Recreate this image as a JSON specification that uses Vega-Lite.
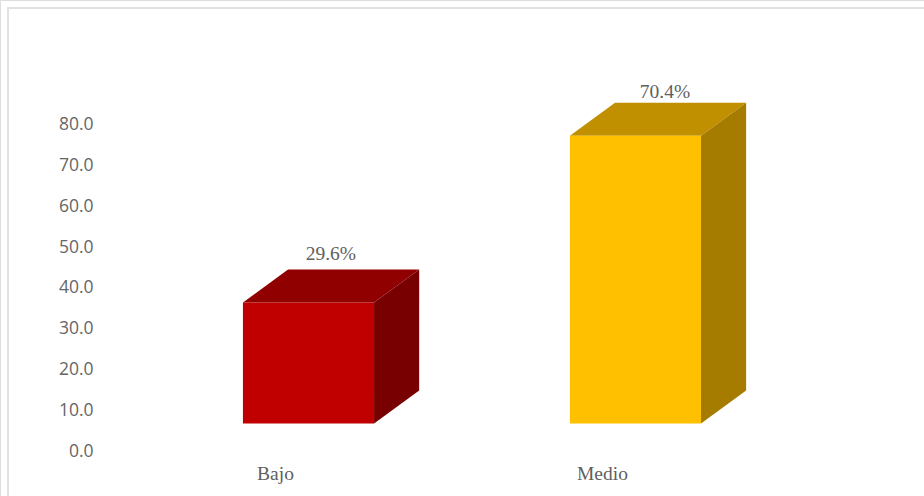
{
  "$schema": "https://vega.github.io/schema/vega-lite/v6.json",
  "width": 924,
  "height": 496,
  "padding": 0,
  "autosize": "none",
  "background": "white",
  "datasets": {
    "frame": [
      {"left": 0.1835, "right": 3.1, "low": -14, "high": 108.49}
    ],
    "front": [
      {"categoria": "Bajo", "valor": 29.6, "base": 0, "x0": 0.902, "x1": 1.303, "cara": "Bajo frente"},
      {"categoria": "Medio", "valor": 70.4, "base": 0, "x0": 1.902, "x1": 2.303, "cara": "Medio frente"}
    ],
    "side": [
      {"cara": "Bajo lado", "x": 1.303, "alto": 29.6, "bajo": 0},
      {"cara": "Bajo lado", "x": 1.441, "alto": 37.7, "bajo": 8.1},
      {"cara": "Medio lado", "x": 2.303, "alto": 70.4, "bajo": 0},
      {"cara": "Medio lado", "x": 2.441, "alto": 78.5, "bajo": 8.1}
    ],
    "top": [
      {"cara": "Bajo tapa", "y": 29.6, "x0": 0.902, "x1": 1.303},
      {"cara": "Bajo tapa", "y": 37.7, "x0": 1.04, "x1": 1.441},
      {"cara": "Medio tapa", "y": 70.4, "x0": 1.902, "x1": 2.303},
      {"cara": "Medio tapa", "y": 78.5, "x0": 2.04, "x1": 2.441}
    ],
    "labels": [
      {"texto": "29.6%", "x": 1.171, "y": 41.4},
      {"texto": "70.4%", "x": 2.193, "y": 81.0}
    ]
  },
  "encoding": {
    "color": {
      "field": "cara",
      "type": "nominal",
      "legend": null,
      "scale": {
        "domain": ["Bajo frente", "Bajo lado", "Bajo tapa", "Medio frente", "Medio lado", "Medio tapa"],
        "range": ["#C00000", "#780000", "#900000", "#FFC000", "#A67C00", "#C09000"]
      }
    }
  },
  "layer": [
    {
      "data": {"name": "frame"},
      "mark": {"type": "rect", "fill": null, "stroke": "#E2E2E2", "strokeWidth": 2, "clip": true},
      "encoding": {
        "color": {"value": null},
        "x": {
          "field": "left",
          "type": "quantitative",
          "title": null,
          "scale": {"domain": [0.159, 2.985], "nice": false, "zero": false},
          "axis": {
            "orient": "bottom",
            "values": [1, 2],
            "labelExpr": "datum.value === 1 ? 'Bajo' : 'Medio'",
            "domain": false,
            "ticks": false,
            "grid": false,
            "offset": -23,
            "labelPadding": 0,
            "labelBaseline": "middle",
            "labelFont": "Liberation Serif",
            "labelFontSize": 19.5,
            "labelColor": "#606060",
            "zindex": 1
          }
        },
        "x2": {"field": "right"},
        "y": {
          "field": "low",
          "type": "quantitative",
          "title": null,
          "scale": {"domain": [-10.89, 110.45], "nice": false, "zero": false},
          "axis": {
            "orient": "left",
            "values": [0, 10, 20, 30, 40, 50, 60, 70, 80],
            "format": ".1f",
            "domain": false,
            "ticks": false,
            "grid": false,
            "offset": -93,
            "labelPadding": 0,
            "labelFont": "Open Sans",
            "labelFontSize": 17.5,
            "labelColor": "#666666",
            "zindex": 1
          }
        },
        "y2": {"field": "high"}
      }
    },
    {
      "data": {"name": "top"},
      "mark": {"type": "area", "orient": "horizontal"},
      "encoding": {
        "y": {"field": "y", "type": "quantitative", "axis": null, "scale": {"domain": [-17.74, 103.61], "nice": false, "zero": false}},
        "x": {"field": "x0", "type": "quantitative", "title": null},
        "x2": {"field": "x1"},
        "detail": {"field": "cara"}
      }
    },
    {
      "data": {"name": "side"},
      "mark": {"type": "area", "orient": "vertical"},
      "encoding": {
        "x": {"field": "x", "type": "quantitative", "title": null},
        "y": {"field": "alto", "type": "quantitative", "axis": null, "scale": {"domain": [-17.74, 103.61], "nice": false, "zero": false}},
        "y2": {"field": "bajo"},
        "detail": {"field": "cara"}
      }
    },
    {
      "data": {"name": "front"},
      "mark": {"type": "rect"},
      "encoding": {
        "x": {"field": "x0", "type": "quantitative", "title": null},
        "x2": {"field": "x1"},
        "y": {"field": "valor", "type": "quantitative", "axis": null, "scale": {"domain": [-17.74, 103.61], "nice": false, "zero": false}},
        "y2": {"field": "base"}
      }
    },
    {
      "data": {"name": "labels"},
      "mark": {"type": "text", "font": "Liberation Serif", "fontSize": 19.5, "baseline": "middle", "align": "center"},
      "encoding": {
        "color": {"value": "#606060"},
        "x": {"field": "x", "type": "quantitative", "title": null},
        "y": {"field": "y", "type": "quantitative", "axis": null, "scale": {"domain": [-17.74, 103.61], "nice": false, "zero": false}},
        "text": {"field": "texto"}
      }
    }
  ],
  "resolve": {"scale": {"y": "independent"}, "axis": {"y": "independent"}}
}
